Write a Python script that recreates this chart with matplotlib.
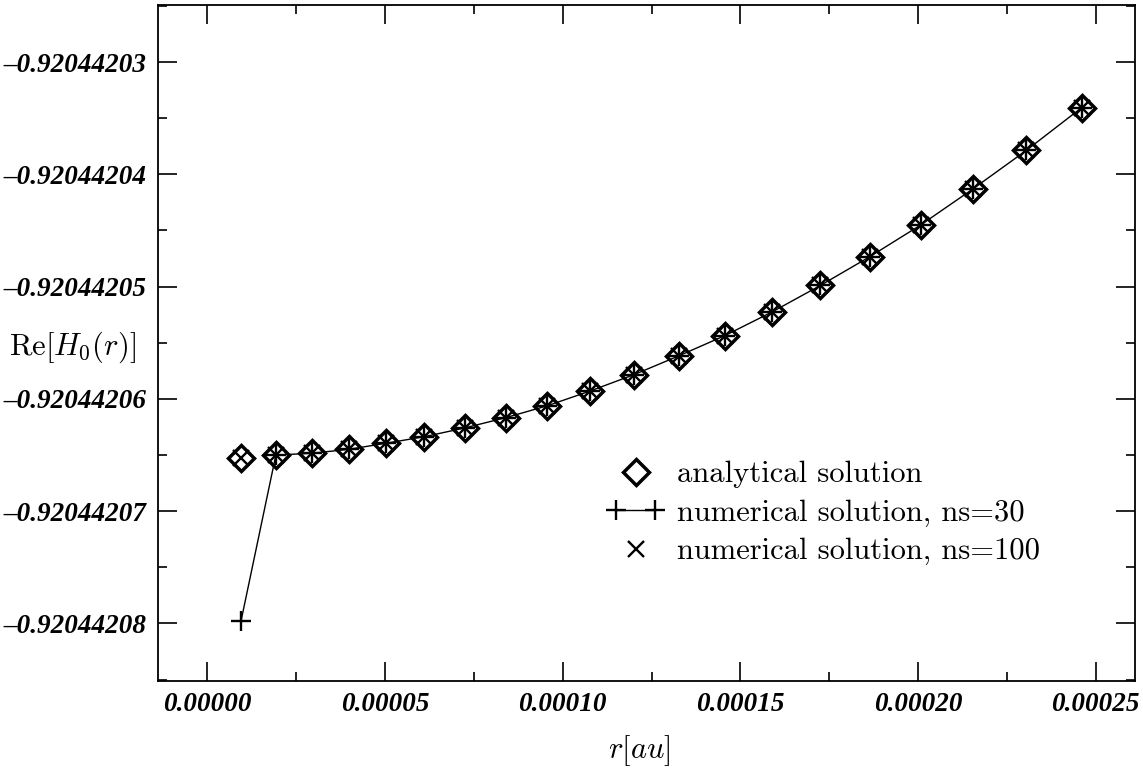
import matplotlib
matplotlib.use("Agg")
import matplotlib.pyplot as plt
from matplotlib.ticker import MultipleLocator, FuncFormatter
from matplotlib.legend_handler import HandlerLine2D

# radial grid points r [au]
r_vals = [9.5e-6, 1.93e-5, 2.95e-5, 3.98e-5, 5.03e-5, 6.10e-5, 7.24e-5,
          8.40e-5, 9.57e-5, 1.077e-4, 1.200e-4, 1.326e-4, 1.456e-4,
          1.589e-4, 1.725e-4, 1.864e-4, 2.007e-4, 2.154e-4, 2.305e-4, 2.460e-4]

# Re[H0(r)] analytical
h_analytic = [-0.92044206524, -0.92044206500, -0.92044206484, -0.92044206449,
              -0.92044206395, -0.92044206337, -0.92044206259, -0.92044206167,
              -0.92044206061, -0.92044205930, -0.92044205785, -0.92044205618,
              -0.92044205437, -0.92044205226, -0.92044204990, -0.92044204734,
              -0.92044204452, -0.92044204131, -0.92044203786, -0.92044203407]

# numerical, ns=30 (first point is off)
h_ns30 = [-0.92044207978, -0.92044206500, -0.92044206484, -0.92044206449,
          -0.92044206395, -0.92044206337, -0.92044206259, -0.92044206167,
          -0.92044206061, -0.92044205930, -0.92044205785, -0.92044205618,
          -0.92044205437, -0.92044205226, -0.92044204990, -0.92044204734,
          -0.92044204452, -0.92044204131, -0.92044203786, -0.92044203407]

# numerical, ns=100
h_ns100 = [-0.92044206524, -0.92044206500, -0.92044206484, -0.92044206449,
           -0.92044206395, -0.92044206337, -0.92044206259, -0.92044206167,
           -0.92044206061, -0.92044205930, -0.92044205785, -0.92044205618,
           -0.92044205437, -0.92044205226, -0.92044204990, -0.92044204734,
           -0.92044204452, -0.92044204131, -0.92044203786, -0.92044203407]

plt.rcParams['font.family'] = 'Liberation Serif'
plt.rcParams['font.weight'] = 'bold'
plt.rcParams['font.style'] = 'italic'
plt.rcParams['mathtext.fontset'] = 'cm'

fig = plt.figure(figsize=(11.43, 7.74), dpi=100)
ax = fig.add_axes([0.1382, 0.1206, 0.8548, 0.8729])

l1, = ax.plot(r_vals, h_analytic, linestyle='none', marker='D', ms=13,
              mfc='none', mec='black', mew=2.5,
              label='analytical solution')
l2, = ax.plot(r_vals, h_ns30, color='black', linewidth=1.0, marker='+',
              ms=14, mew=1.7, label='numerical solution, ns=30')
l3, = ax.plot(r_vals, h_ns100, linestyle='none', marker='x', ms=11,
              mew=1.7, color='black', label='numerical solution, ns=100')

ax.set_xlim(-1.387e-5, 2.6103e-4)
ax.set_ylim(-0.92044208509, -0.920442024927)

ax.xaxis.set_major_locator(MultipleLocator(5e-5))
ax.xaxis.set_minor_locator(MultipleLocator(2.5e-5))
ax.yaxis.set_major_locator(MultipleLocator(1e-8))
ax.yaxis.set_minor_locator(MultipleLocator(5e-9))
ax.xaxis.set_major_formatter(FuncFormatter(lambda v, p: f'{abs(v):.5f}'))
ax.yaxis.set_major_formatter(FuncFormatter(
    lambda v, p: ('\u2013' if v < 0 else '') + f'{abs(v):.8f}'))

ax.tick_params(which='both', direction='in', top=True, right=True,
               labelsize=19.5, width=1.2)
ax.tick_params(which='major', length=13.5, pad=8)
ax.tick_params(which='minor', length=6.7)
for s in ax.spines.values():
    s.set_linewidth(1.3)

ax.set_xlabel(r'$r[au]$', fontsize=22, va='center')
ax.xaxis.set_label_coords(0.493, -0.104)
ax.set_ylabel(r'$\mathrm{Re}[H_0(r)]$', fontsize=22, rotation=0,
              ha='center', va='center')
ax.yaxis.set_label_coords(-0.087, 0.494)

ax.legend(handles=[l1, l2, l3], loc='upper left',
          bbox_to_anchor=(0.431, 0.366), frameon=False,
          prop={'family': 'cmr10', 'size': 22, 'weight': 'normal',
                'style': 'normal'},
          handlelength=1.9, handletextpad=0.4, labelspacing=0.36,
          handler_map={l1: HandlerLine2D(numpoints=1),
                       l2: HandlerLine2D(numpoints=2),
                       l3: HandlerLine2D(numpoints=1)})

fig.savefig('out.png', dpi=100)
